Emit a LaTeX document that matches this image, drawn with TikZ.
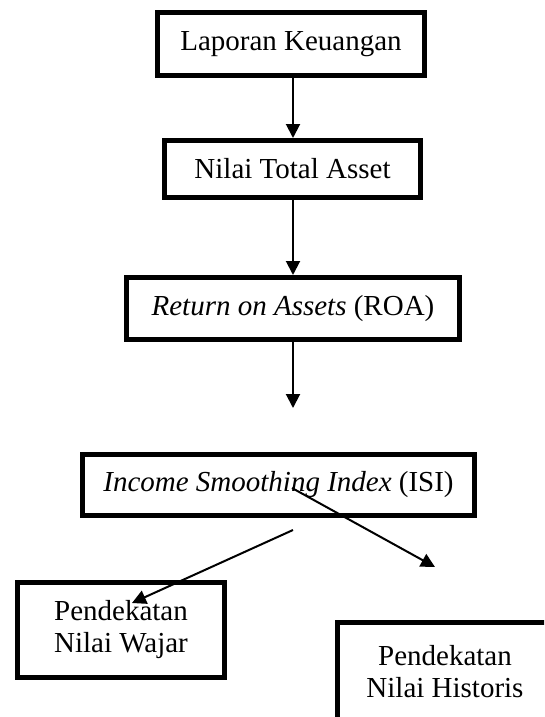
\documentclass[tikz,border=0pt]{standalone}
\usepackage{fontspec}
\setmainfont{Liberation Serif}
\usetikzlibrary{arrows.meta}
\begin{document}
\begin{tikzpicture}[x=1pt,y=-1pt,
  box/.style={draw=black, line width=5pt, inner sep=0pt, align=center,
    font=\fontsize{29}{32}\selectfont},
  txt/.style={inner sep=0pt, align=center, font=\fontsize{29}{32}\selectfont},
  conn/.style={line width=2pt, -{Triangle[length=14pt,width=14pt]}}]
\useasboundingbox (0,0) rectangle (544,717);
\node[box, minimum width=267pt, minimum height=63pt] (b1) at (291,44) {Laporan Keuangan};
\node[box, minimum width=256pt, minimum height=57pt] (b2) at (292.5,169) {Nilai Total Asset};
\node[box, minimum width=333pt, minimum height=62pt] (b3) at (293,308.5) {\textit{Return on Assets} (ROA)};
\node[box, minimum width=392pt, minimum height=61pt] (b4) at (278.5,485) {\textit{Income Smoothing Index} (ISI)};
\node[box, minimum width=207pt, minimum height=95pt] (b5) at (121,630) {Pendekatan\\Nilai Wajar};
\begin{scope}
\clip (0,0) rectangle (544,717);
\node[box, minimum width=300pt, minimum height=140pt] (b6) at (487.5,692.5) {};
\end{scope}
\node[txt] (t6) at (445,672) {Pendekatan\\Nilai Historis};
\coordinate (e3) at (293,408);
\coordinate (s4) at (292,488);
\coordinate (e4) at (435,567);
\coordinate (s5) at (293,530);
\coordinate (e5) at (132,603);
\draw[conn] (b1.south -| 293,0) -- (b2.north -| 293,0);
\draw[conn] (b2.south -| 293,0) -- (b3.north -| 293,0);
\draw[conn] (b3.south -| 293,0) -- (e3);
\draw[conn] (s4) -- (e4);
\draw[conn] (s5) -- (e5);
\end{tikzpicture}
\end{document}
